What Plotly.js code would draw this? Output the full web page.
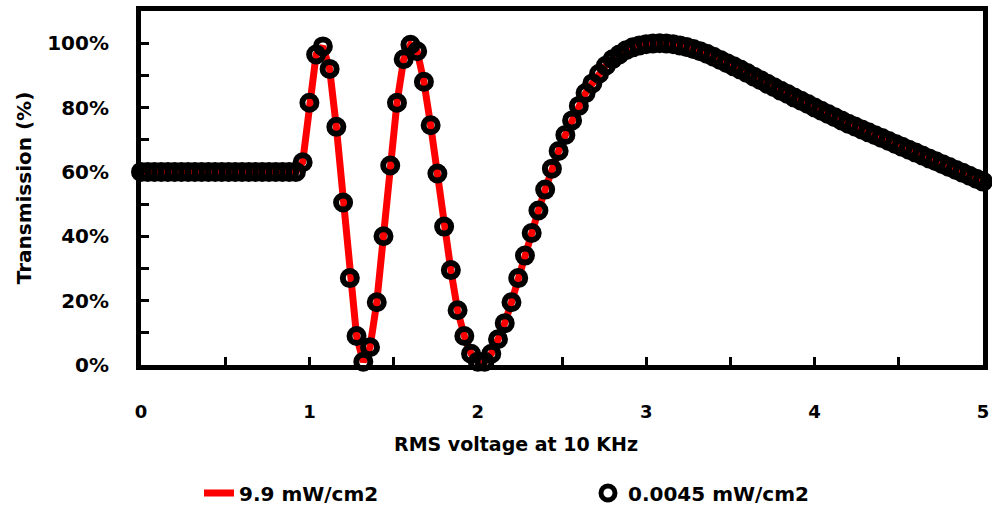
<!DOCTYPE html>
<html><head><meta charset="utf-8">
<script src="https://cdn.plot.ly/plotly-3.0.1.min.js"></script>
<style>html,body{margin:0;padding:0;background:#fff}#chart{width:992px;height:505px}</style>
</head><body><div id="chart"></div>
<script>
// RMS voltage (V) at 10 KHz
const voltage = [
  0.00,0.04,0.08,0.12,0.16,0.20,0.24,0.28,0.32,0.36,0.40,0.44,0.48,0.52,0.56,0.60,0.64,0.68,0.72,0.76,0.80,0.84,0.88,0.92,
  0.96,1.00,1.04,1.08,1.12,1.16,1.20,1.24,1.28,1.32,1.36,1.40,1.44,1.48,1.52,1.56,1.60,1.64,1.68,1.72,1.76,1.80,1.84,1.88,1.92,1.96,2.00,
  2.04,2.08,2.12,2.16,2.20,2.24,2.28,2.32,2.36,2.40,2.44,2.48,2.52,2.56,2.60,2.64,2.68,2.72,2.76,2.80,2.84,2.88,2.92,2.96,3.00,
  3.04,3.08,3.12,3.16,3.20,3.24,3.28,3.32,3.36,3.40,3.44,3.48,3.52,3.56,3.60,3.64,3.68,3.72,3.76,3.80,3.84,3.88,3.92,3.96,4.00,
  4.04,4.08,4.12,4.16,4.20,4.24,4.28,4.32,4.36,4.40,4.44,4.48,4.52,4.56,4.60,4.64,4.68,4.72,4.76,4.80,4.84,4.88,4.92,4.96,5.00
];
// Transmission, 9.9 mW/cm2 (red line)
const trans99 = [
  0.60,0.60,0.60,0.60,0.60,0.60,0.60,0.60,0.60,0.60,0.60,0.60,0.60,0.60,0.60,0.60,0.60,0.60,0.60,0.60,0.60,0.60,0.60,0.60,
  0.63,0.815,0.965,0.99,0.92,0.74,0.505,0.27,0.09,0.01,0.055,0.195,0.40,0.62,0.815,0.95,0.995,0.975,0.88,0.745,0.595,0.43,0.295,0.17,0.09,0.035,0.01,
  0.01,0.035,0.08,0.13,0.195,0.27,0.34,0.41,0.48,0.545,0.61,0.665,0.715,0.76,0.805,0.845,0.875,0.905,0.93,0.95,0.965,0.978,0.987,0.993,0.997,
  0.999,1.00,0.999,0.997,0.993,0.988,0.982,0.975,0.967,0.958,0.948,0.938,0.928,0.918,0.907,0.896,0.885,0.874,0.863,0.852,0.842,0.831,0.821,0.811,0.80,
  0.79,0.78,0.77,0.76,0.75,0.741,0.732,0.723,0.714,0.705,0.696,0.687,0.678,0.669,0.66,0.651,0.642,0.633,0.624,0.615,0.606,0.597,0.588,0.579,0.57
];
// Transmission, 0.0045 mW/cm2 (open circles)
const trans00045 = [
  0.60,0.60,0.60,0.60,0.60,0.60,0.60,0.60,0.60,0.60,0.60,0.60,0.60,0.60,0.60,0.60,0.60,0.60,0.60,0.60,0.60,0.60,0.60,0.60,
  0.63,0.815,0.965,0.99,0.92,0.74,0.505,0.27,0.09,0.01,0.055,0.195,0.40,0.62,0.815,0.95,0.995,0.975,0.88,0.745,0.595,0.43,0.295,0.17,0.09,0.035,0.01,
  0.01,0.035,0.08,0.13,0.195,0.27,0.34,0.41,0.48,0.545,0.61,0.665,0.715,0.76,0.805,0.845,0.875,0.905,0.93,0.95,0.965,0.978,0.987,0.993,0.997,
  0.999,1.00,0.999,0.997,0.993,0.988,0.982,0.975,0.967,0.958,0.948,0.938,0.928,0.918,0.907,0.896,0.885,0.874,0.863,0.852,0.842,0.831,0.821,0.811,0.80,
  0.79,0.78,0.77,0.76,0.75,0.741,0.732,0.723,0.714,0.705,0.696,0.687,0.678,0.669,0.66,0.651,0.642,0.633,0.624,0.615,0.606,0.597,0.588,0.579,0.57
];
const seriesNames = ['9.9 mW/cm2', '0.0045 mW/cm2'];
const xTitle = 'RMS voltage at 10 KHz';
const yTitle = 'Transmission (%)';

const F = 'DejaVu Sans, Liberation Sans, sans-serif';
const traces = [
  {x: voltage, y: trans99, name: seriesNames[0], type: 'scatter', mode: 'lines', cliponaxis: false,
   line: {color: '#ff0000', width: 7}},
  {x: voltage, y: trans00045, name: seriesNames[1], type: 'scatter', mode: 'markers', cliponaxis: false,
   marker: {symbol: 'circle-open', size: 14, color: '#000', line: {width: 6, color: '#000'}}}
];
const axisCommon = {
  showline: true, linewidth: 5, linecolor: '#000', mirror: true,
  showgrid: false, zeroline: false,
  ticks: 'inside', ticklen: 8, tickwidth: 3, tickcolor: '#000'
};
const layout = {
  width: 992, height: 505,
  margin: {l: 141, r: 9, t: 11, b: 140},
  paper_bgcolor: '#fff', plot_bgcolor: '#fff',
  font: {family: F, color: '#000'},
  showlegend: true,
  xaxis: Object.assign({}, axisCommon, {
    range: [0, 5], tick0: 0, dtick: 1,
    minor: {dtick: 0.5, ticks: 'inside', ticklen: 8, tickwidth: 3, tickcolor: '#000'},
    tickfont: {family: F, size: 18, weight: 'bold'},
    ticklabelstandoff: 26
  }),
  yaxis: Object.assign({}, axisCommon, {
    range: [0, 1.1], tick0: 0, dtick: 0.2, tickformat: '.0%',
    minor: {dtick: 0.1, ticks: 'inside', ticklen: 8, tickwidth: 3, tickcolor: '#000'},
    tickfont: {family: F, size: 20, weight: 'bold'},
    ticklabelstandoff: 23,
    title: {text: yTitle, font: {family: F, size: 20, weight: 'bold'}, standoff: 12}
  }),
  annotations: [{
    text: xTitle, xref: 'paper', yref: 'paper', x: 0.445, y: -0.222,
    xanchor: 'center', yanchor: 'middle', showarrow: false,
    font: {family: F, size: 19, weight: 'bold', color: '#000'}
  }],
  legend: {
    orientation: 'h', xref: 'container', yref: 'container',
    x: 0.2006, xanchor: 'left', y: 0.0238, yanchor: 'middle',
    font: {family: F, size: 20, weight: 'bold'},
    entrywidth: 344, entrywidthmode: 'pixels', bgcolor: 'rgba(0,0,0,0)'
  }
};
Plotly.newPlot('chart', traces, layout, {displayModeBar: false, staticPlot: true});
</script>
</body></html>
